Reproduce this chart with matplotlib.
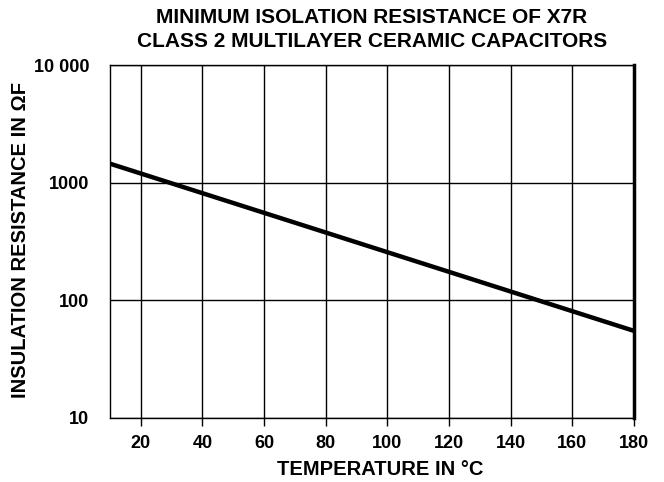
import matplotlib
matplotlib.use("Agg")
import matplotlib.pyplot as plt
import numpy as np

plt.rcParams['font.family'] = ['Liberation Sans', 'DejaVu Sans']
plt.rcParams['font.weight'] = 'bold'

# data
temps = [10, 180]
resistance = [1450, 55]
x_ticks = [20, 40, 60, 80, 100, 120, 140, 160, 180]
y_ticks = [10, 100, 1000, 10000]
y_labels = ['10', '100', '1000', '10 000']

W, H = 664, 482
fig = plt.figure(figsize=(W / 100, H / 100), dpi=100)
ax = fig.add_axes([110/W, 1 - 418/H, (634-110)/W, (418-65)/H])

ax.semilogy(temps, resistance, color='black', lw=3.2, solid_capstyle='butt')

ax.set_xlim(10, 180)
ax.set_ylim(10, 10000)
ax.set_xticks(x_ticks)
ax.set_xticklabels([str(t) for t in x_ticks], fontsize=13, fontweight='bold')
ax.set_yticks(y_ticks)
ax.set_yticklabels(y_labels, fontsize=13, fontweight='bold')
ax.yaxis.set_minor_locator(matplotlib.ticker.NullLocator())

ax.tick_params(axis='x', direction='out', length=6, width=1, pad=6)
ax.tick_params(axis='y', length=0, pad=15)

ax.grid(True, which='major', color='black', lw=1)
for s in ['left', 'bottom', 'top']:
    ax.spines[s].set_linewidth(1)
ax.spines['right'].set_linewidth(2.5)

# titles and axis labels placed in pixel positions
fig.text(372/W, 1 - 23/H, 'MINIMUM ISOLATION RESISTANCE OF X7R',
         ha='center', va='baseline', fontsize=15, fontweight='bold')
fig.text(372/W, 1 - 47/H, 'CLASS 2 MULTILAYER CERAMIC CAPACITORS',
         ha='center', va='baseline', fontsize=15, fontweight='bold')
fig.text(380/W, 1 - 475/H, 'TEMPERATURE IN °C',
         ha='center', va='baseline', fontsize=14.5, fontweight='bold')
fig.text(21/W, 1 - 240/H, 'INSULATION RESISTANCE IN ΩF', rotation=90,
         ha='center', va='center', fontsize=14.5, fontweight='bold')

fig.savefig('out.png', dpi=100)
